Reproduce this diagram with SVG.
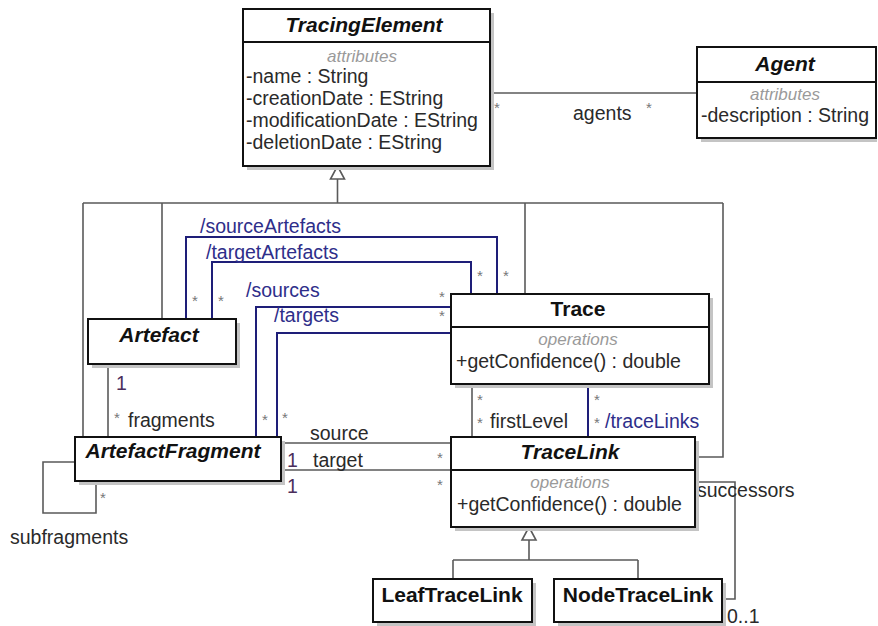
<svg xmlns="http://www.w3.org/2000/svg" width="878" height="626" viewBox="0 0 878 626">
<style>
text{font-family:"Liberation Sans",Arial,sans-serif;font-size:19.5px;fill:#2a2a2a}
.box{fill:#fff;stroke:#111;stroke-width:2}
.sh{fill:#c4c4c4}
.div{stroke:#111;stroke-width:2}
.t{font-weight:bold;font-size:21px;fill:#111;text-anchor:middle}
.ti{font-weight:bold;font-style:italic;font-size:21px;fill:#111;text-anchor:middle}
.st{font-style:italic;font-size:17px;fill:#9a9a9a;text-anchor:middle}
.c{fill:none;stroke:#5a5a5a;stroke-width:1.6}
.b{fill:none;stroke:#1e1e78;stroke-width:2}
.bl{fill:#2e2e8a}
.s{font-size:15px;fill:#777;text-anchor:middle}
.n{fill:#4b2d5b}
.tri{fill:#fff;stroke:#5a5a5a;stroke-width:1.6}
</style>
<g id="connectors">
<polygon class="tri" points="330.5,179 344.5,179 337.5,166"/>
<path class="c" d="M337.5,179V203M83,203H723M83,203V437M162,203V319M525,203V294M723,203V457H695"/>
<path class="c" d="M490,93H697"/>
<path class="c" d="M108,364V437"/>
<path class="c" d="M75,462H43V513H96V481"/>
<path class="c" d="M281,443H451M281,470H451"/>
<path class="c" d="M472,384V437"/>
<path class="b" d="M588,384V437"/>
<path class="c" d="M695,482H735V599H722"/>
<polygon class="tri" points="522,540 536,540 529,527"/>
<path class="c" d="M529,540V560M453,560H638M453,560V579M638,560V579"/>
<path class="b" d="M186,319V237H497V294"/>
<path class="b" d="M212,319V262H471V294"/>
<path class="b" d="M256,437V307H451"/>
<path class="b" d="M277,437V333H451"/>
<text x="200" y="233" class="bl">/sourceArtefacts</text>
<text x="206" y="259" class="bl">/targetArtefacts</text>
<text x="246" y="297" class="bl">/sources</text>
<text x="274" y="322" class="bl">/targets</text>
<text x="573" y="120">agents</text>
<text x="497" y="113" class="s">*</text>
<text x="649" y="113" class="s">*</text>
<text x="195" y="306" class="s">*</text>
<text x="221" y="306" class="s">*</text>
<text x="480" y="281" class="s">*</text>
<text x="506" y="281" class="s">*</text>
<text x="442" y="302" class="s">*</text>
<text x="442" y="321" class="s">*</text>
<text x="265" y="425" class="s">*</text>
<text x="285" y="423" class="s">*</text>
<text x="117" y="423" class="s">*</text>
<text x="128" y="427">fragments</text>
<text x="116" y="390" class="n">1</text>
<text x="103" y="503" class="s">*</text>
<text x="10" y="544">subfragments</text>
<text x="310" y="440">source</text>
<text x="313" y="467">target</text>
<text x="287" y="467" class="n">1</text>
<text x="287" y="493" class="n">1</text>
<text x="440" y="463" class="s">*</text>
<text x="440" y="490" class="s">*</text>
<text x="480" y="405" class="s">*</text>
<text x="480" y="428" class="s">*</text>
<text x="490" y="428">firstLevel</text>
<text x="597" y="405" class="s">*</text>
<text x="597" y="428" class="s">*</text>
<text x="605" y="428" class="bl">/traceLinks</text>
<text x="697" y="497">successors</text>
<text x="727" y="623">0..1</text>
</g>
<g id="TracingElement">
<rect class="sh" x="247" y="13" width="247" height="157"/>
<rect class="box" x="243" y="9" width="247" height="157"/>
<line class="div" x1="243" y1="42" x2="490" y2="42"/>
<text x="364" y="32" class="ti">TracingElement</text>
<text x="362" y="62" class="st">attributes</text>
<text x="246" y="83">-name : String</text>
<text x="246" y="105">-creationDate : EString</text>
<text x="246" y="127">-modificationDate : EString</text>
<text x="246" y="149">-deletionDate : EString</text>
</g>
<g id="Agent">
<rect class="sh" x="701" y="51" width="176" height="91"/>
<rect class="box" x="697" y="47" width="179" height="91"/>
<line class="div" x1="697" y1="82" x2="876" y2="82"/>
<text x="785" y="71" class="ti">Agent</text>
<text x="785" y="100" class="st">attributes</text>
<text x="701" y="122">-description : String</text>
</g>
<g id="Artefact">
<rect class="sh" x="92" y="323" width="148" height="45"/>
<rect class="box" x="88" y="319" width="148" height="45"/>
<text x="159" y="342" class="ti">Artefact</text>
</g>
<g id="ArtefactFragment">
<rect class="sh" x="79" y="441" width="206" height="44"/>
<rect class="box" x="75" y="437" width="206" height="44"/>
<text x="173" y="458" class="ti">ArtefactFragment</text>
</g>
<g id="Trace">
<rect class="sh" x="455" y="298" width="258" height="90"/>
<rect class="box" x="451" y="294" width="258" height="90"/>
<line class="div" x1="451" y1="327" x2="709" y2="327"/>
<text x="578" y="316" class="t">Trace</text>
<text x="578" y="345" class="st">operations</text>
<text x="456" y="368">+getConfidence() : double</text>
</g>
<g id="TraceLink">
<rect class="sh" x="455" y="441" width="244" height="90"/>
<rect class="box" x="451" y="437" width="244" height="90"/>
<line class="div" x1="451" y1="470" x2="695" y2="470"/>
<text x="570" y="459" class="ti">TraceLink</text>
<text x="570" y="488" class="st">operations</text>
<text x="457" y="511">+getConfidence() : double</text>
</g>
<g id="LeafTraceLink">
<rect class="sh" x="377" y="583" width="159" height="43"/>
<rect class="box" x="373" y="579" width="159" height="43"/>
<text x="452" y="602" class="t">LeafTraceLink</text>
</g>
<g id="NodeTraceLink">
<rect class="sh" x="558" y="583" width="168" height="43"/>
<rect class="box" x="554" y="579" width="168" height="43"/>
<text x="638" y="602" class="t">NodeTraceLink</text>
</g>
</svg>
